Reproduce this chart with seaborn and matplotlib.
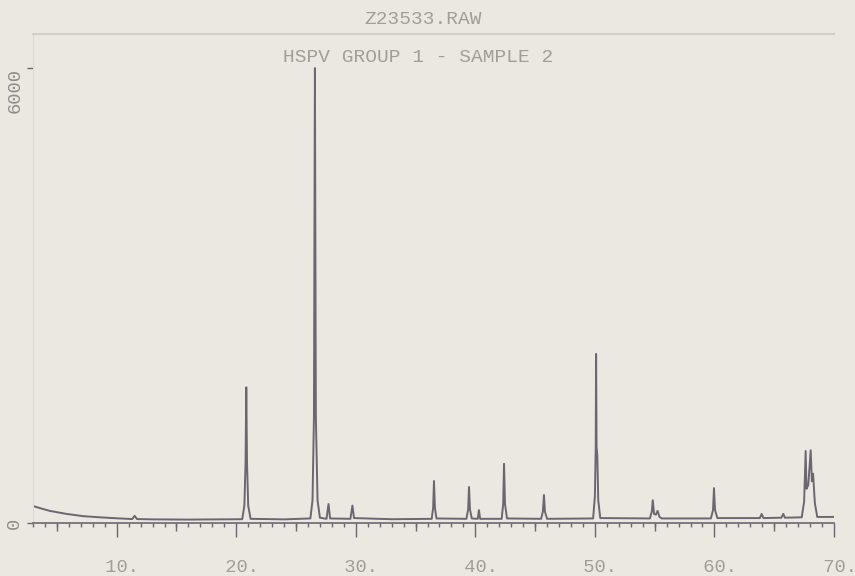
import numpy as np
import pandas as pd
import matplotlib
matplotlib.use("Agg")
import matplotlib.pyplot as plt
import seaborn as sns

# diffractogram trace (2-theta in degrees, counts)
two_theta = [3.0, 3.5, 4.4, 5.8, 7.2, 8.6, 10.0, 11.3, 11.5, 11.7, 13.0, 16.0,
             20.5, 20.68, 20.78, 20.84, 20.9, 21.0, 21.2, 24.0,
             26.2, 26.38, 26.5, 26.58, 26.66, 26.8, 27.0,
             27.55, 27.72, 27.85, 29.55, 29.72, 29.85, 33.0,
             36.35, 36.47, 36.54, 36.62, 36.75,
             39.25, 39.4, 39.47, 39.55, 39.7, 40.2, 40.3, 40.4,
             42.2, 42.33, 42.4, 42.48, 42.65,
             45.5, 45.65, 45.74, 45.82, 46.0,
             49.85, 50.0, 50.07, 50.1, 50.14, 50.2, 50.28, 50.45,
             54.6, 54.76, 54.84, 54.95, 55.1, 55.25, 55.4, 55.6,
             59.7, 59.88, 59.96, 60.05, 60.25,
             63.8, 63.95, 64.1, 65.6, 65.76, 65.9,
             67.3, 67.5, 67.63, 67.7, 67.85, 68.05, 68.15, 68.25, 68.4, 68.6, 70.0]
counts = [225, 200, 160, 120, 90, 75, 62, 52, 95, 52, 48, 45,
          50, 230, 800, 1790, 800, 230, 55, 48,
          60, 300, 1400, 6000, 1400, 300, 70,
          55, 250, 60, 55, 230, 65, 50,
          55, 200, 554, 200, 60,
          55, 180, 475, 180, 60, 55, 170, 55,
          55, 250, 780, 250, 60,
          55, 150, 370, 150, 55,
          60, 350, 1000, 2230, 1000, 900, 300, 65,
          60, 150, 300, 120, 110, 160, 80, 60,
          60, 170, 460, 170, 65,
          65, 120, 65, 70, 120, 70,
          75, 280, 950, 450, 500, 960, 550, 650, 260, 80, 80]

title_top = "Z23533.RAW"
title_sub = "HSPV GROUP 1 - SAMPLE 2"
x_ticks = [10, 20, 30, 40, 50, 60, 70]
x_tick_labels = [" 10.", " 20.", " 30.", " 40.", " 50.", " 60.", " 70."]
x_mid_ticks = [5, 15, 25, 35, 45, 55, 65]
y_ticks = [0, 6000]
y_tick_labels = ["0", "6000"]

paper = "#ebe7e1"
ink = "#6a6770"
faint = "#a19d99"

sns.set_style("white", {"axes.facecolor": paper, "figure.facecolor": paper})
plt.rcParams["font.family"] = ["Liberation Mono", "DejaVu Sans Mono"]

fig = plt.figure(figsize=(8.55, 5.76), dpi=100)
ax = fig.add_axes([33 / 855, 1 - 523 / 576, (834 - 33) / 855, (523 - 34) / 576])

df = pd.DataFrame({"two_theta": two_theta, "counts": counts})
sns.lineplot(data=df, x="two_theta", y="counts", ax=ax, color=ink,
             linewidth=1.4, estimator=None, sort=False)

ax.set_xlim(3, 70)
ax.set_ylim(0, 6450)
ax.set_xlabel("")
ax.set_ylabel("")

# frame: strong baseline, washed-out top/left, no right edge
ax.spines["bottom"].set_color(ink)
ax.spines["bottom"].set_linewidth(1.2)
ax.spines["left"].set_color("#dcd8d2")
ax.spines["top"].set_color("#d3cec8")
ax.spines["top"].set_linewidth(1.5)
ax.spines["right"].set_visible(False)

ax.set_xticks(x_ticks)
ax.set_xticklabels(x_tick_labels)
ax.set_xticks(np.arange(3, 71), minor=True)
ax.tick_params(axis="x", which="both", bottom=True)
ax.tick_params(axis="x", which="major", direction="out", length=10, width=1,
               color=ink, pad=16, labelsize=13.5, labelcolor=faint)
ax.tick_params(axis="x", which="minor", direction="out", length=3, width=1, color=ink)

sec = ax.secondary_xaxis("bottom")
sec.set_xticks(x_mid_ticks)
sec.set_xticklabels([])
sec.tick_params(bottom=True, direction="out", length=6, width=1, color=ink)
sec.spines["bottom"].set_visible(False)

ax.set_yticks(y_ticks)
ax.set_yticklabels(y_tick_labels, rotation=90, fontsize=13.5, color="#8f8b88")
ax.tick_params(axis="y", left=True, direction="out", length=4, width=1, color=ink, pad=3)
labs = ax.get_yticklabels()
labs[0].set_va("center")
labs[1].set_va("top")

fig.text(423 / 855, 1 - 20 / 576, title_top, ha="center", va="center",
         fontsize=14, color=faint)
fig.text(418 / 855, 1 - 57 / 576, title_sub, ha="center", va="center",
         fontsize=14, color=faint)

plt.savefig("out.png", dpi=100, facecolor=paper)
